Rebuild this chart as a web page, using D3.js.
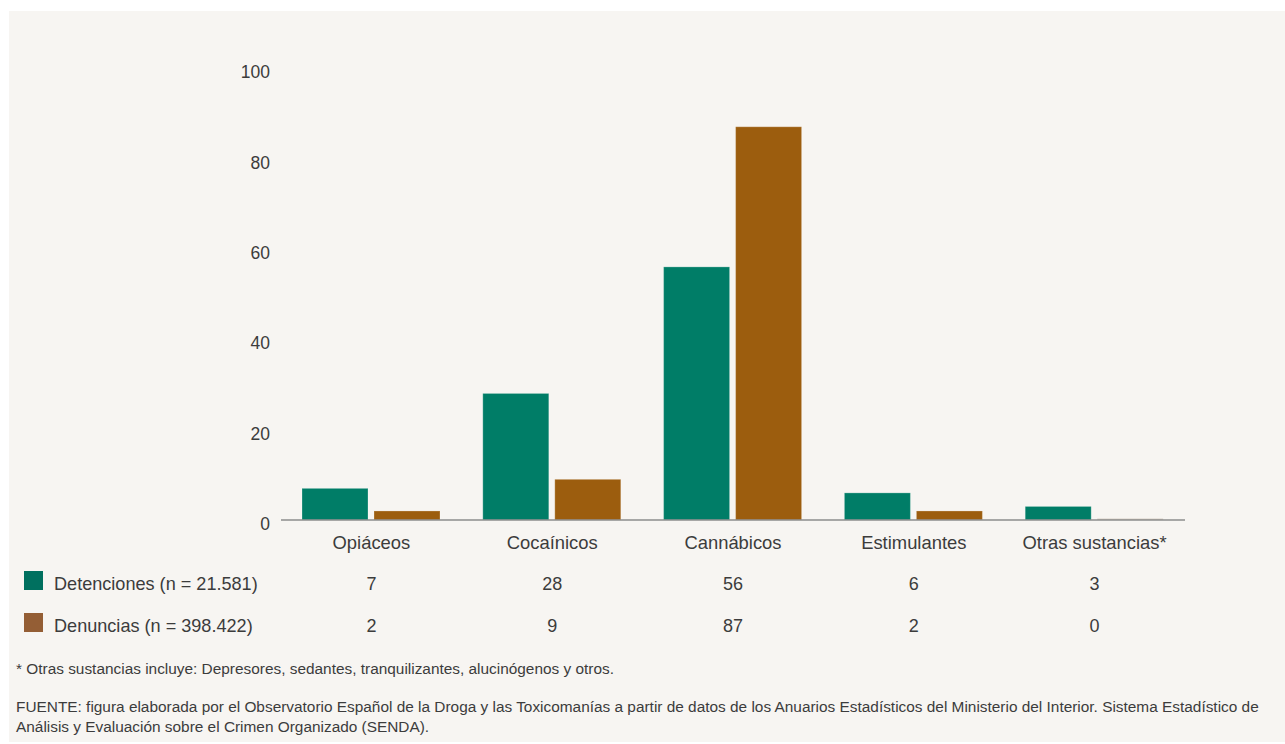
<!DOCTYPE html>
<html>
<head>
<meta charset="utf-8">
<script src="https://cdn.jsdelivr.net/npm/d3@7"></script>
<style>
  html, body { margin: 0; padding: 0; background: #ffffff; }
  svg { display: block; }
  text { font-family: "Liberation Sans", Arial, sans-serif; fill: #3c3c3c; }
</style>
</head>
<body>
<svg id="chart" width="1285" height="744"></svg>
<script>
const categories = ["Opiáceos", "Cocaínicos", "Cannábicos", "Estimulantes", "Otras sustancias*"];
const seriesNames = ["Detenciones (n = 21.581)", "Denuncias (n = 398.422)"];
const detenciones = [7, 28, 56, 6, 3];
const denuncias = [2, 9, 87, 2, 0];
const yTicks = [0, 20, 40, 60, 80, 100];
const footnote = "* Otras sustancias incluye: Depresores, sedantes, tranquilizantes, alucinógenos y otros.";
const sourceLines = [
  "FUENTE: figura elaborada por el Observatorio Español de la Droga y las Toxicomanías a partir de datos de los Anuarios Estadísticos del Ministerio del Interior. Sistema Estadístico de",
  "Análisis y Evaluación sobre el Crimen Organizado (SENDA)."
];

const barColors = ["#007d67", "#9c5d0e"];
const swatchColors = ["#00705f", "#945e35"];
const seriesValues = [detenciones, denuncias];

const svg = d3.select("#chart");

svg.append("rect")
  .attr("x", 9).attr("y", 11)
  .attr("width", 1276).attr("height", 731)
  .attr("fill", "#f7f5f2");

const x = d3.scaleBand().domain(categories).range([281, 1185]).padding(0);
const xSub = d3.scaleBand().domain(d3.range(seriesNames.length)).range([21, 159]).paddingInner(6 / 72);
const y = d3.scaleLinear().domain([0, 100]).range([520, 68]);

// y tick labels
svg.append("g").selectAll("text")
  .data(yTicks).join("text")
  .attr("x", 270)
  .attr("y", d => y(d) + 4)
  .attr("dy", "0.35em")
  .attr("text-anchor", "end")
  .attr("font-size", 17.5)
  .text(d => d);

// bars
const groups = svg.append("g").selectAll("g")
  .data(categories).join("g")
  .attr("transform", d => `translate(${x(d)},0)`);

groups.selectAll("rect")
  .data((d, i) => seriesValues.map((vals, s) => ({ s, v: vals[i] })))
  .join("rect")
  .attr("x", d => xSub(d.s))
  .attr("width", xSub.bandwidth())
  .attr("y", d => d.v > 0 ? y(d.v) : y(0) - 1.5)
  .attr("height", d => d.v > 0 ? y(0) - y(d.v) : 1.5)
  .attr("fill", d => d.v > 0 ? barColors[d.s] : "#c9c0b2")
  .attr("stroke", "rgba(255,255,255,0.25)")
  .attr("stroke-width", 1);

// baseline axis
svg.append("line")
  .attr("x1", x.range()[0]).attr("x2", x.range()[1])
  .attr("y1", y(0)).attr("y2", y(0))
  .attr("stroke", "#8c8c8c").attr("stroke-width", 1.5);

// category labels
svg.append("g").selectAll("text")
  .data(categories).join("text")
  .attr("x", d => x(d) + x.bandwidth() / 2)
  .attr("y", 549)
  .attr("text-anchor", "middle")
  .attr("font-size", 18.4)
  .text(d => d);

// legend/table rows
const rowY = [590, 632];
seriesNames.forEach((name, s) => {
  svg.append("rect")
    .attr("x", 24).attr("y", rowY[s] - 19)
    .attr("width", 19).attr("height", 19)
    .attr("fill", swatchColors[s]);
  svg.append("text")
    .attr("x", 54).attr("y", rowY[s])
    .attr("font-size", 18.1)
    .text(name);
  svg.append("g").selectAll("text")
    .data(categories).join("text")
    .attr("x", d => x(d) + x.bandwidth() / 2)
    .attr("y", rowY[s])
    .attr("text-anchor", "middle")
    .attr("font-size", 18)
    .text((d, i) => seriesValues[s][i]);
});

// footnotes
svg.append("text")
  .attr("x", 16).attr("y", 674)
  .attr("font-size", 15.4)
  .text(footnote);

svg.append("g").selectAll("text")
  .data(sourceLines).join("text")
  .attr("x", 16)
  .attr("y", (d, i) => 712 + i * 20)
  .attr("font-size", 15.4)
  .text(d => d);
</script>
</body>
</html>
